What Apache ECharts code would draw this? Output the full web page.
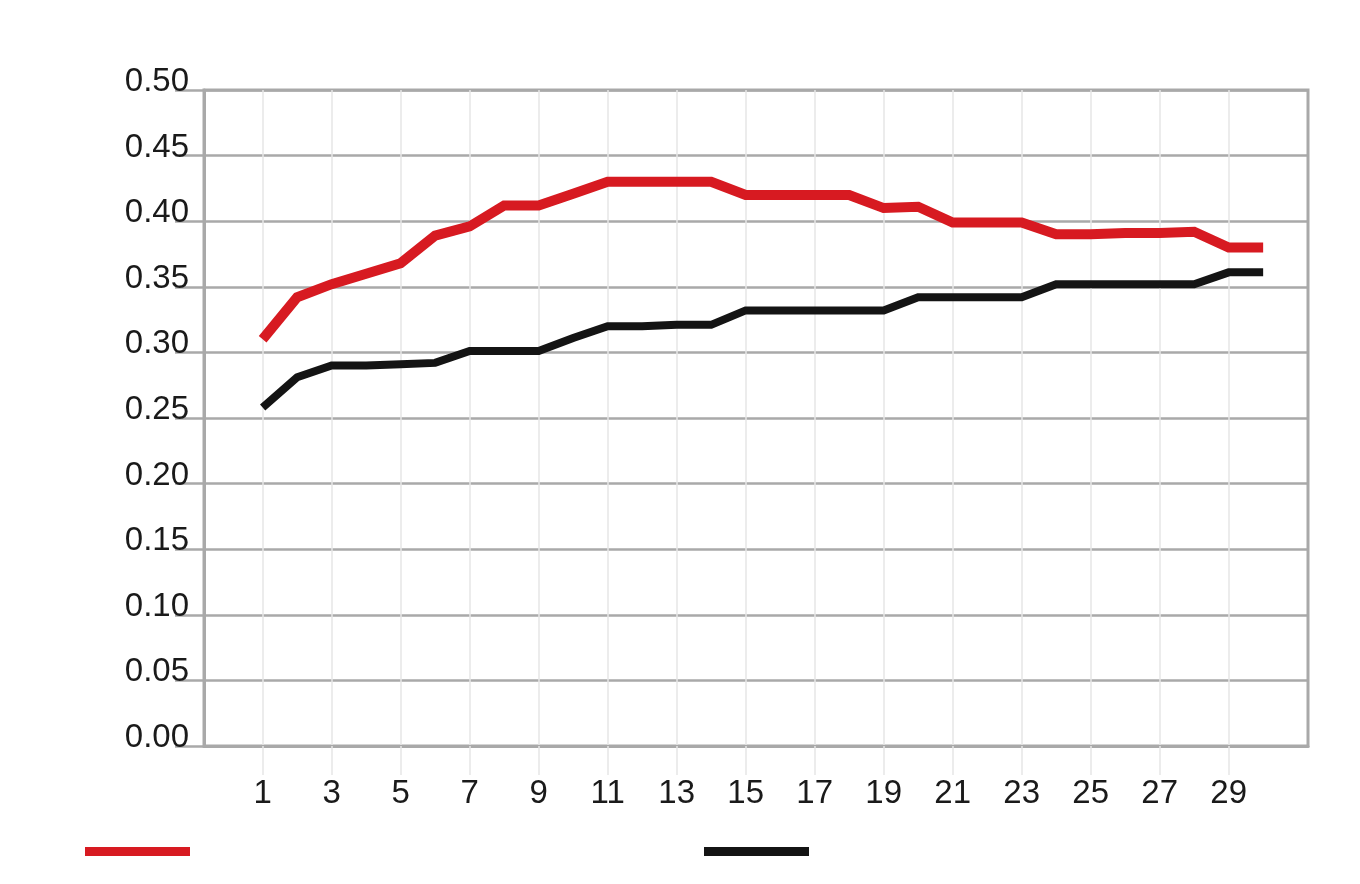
<!DOCTYPE html>
<html>
<head>
<meta charset="utf-8">
<script src="https://cdn.jsdelivr.net/npm/echarts@6/dist/echarts.min.js"></script>
<style>
  html, body { margin: 0; padding: 0; background: #ffffff; }
  #chart { width: 1360px; height: 884px; }
</style>
</head>
<body>
<div id="chart"></div>
<script>
// ---- data ----
var categories = [1, 2, 3, 4, 5, 6, 7, 8, 9, 10, 11, 12, 13, 14, 15, 16, 17, 18, 19, 20, 21, 22, 23, 24, 25, 26, 27, 28, 29, 30];
var redSeries = [0.310, 0.342, 0.352, 0.360, 0.368, 0.389, 0.396, 0.412, 0.412, 0.421,
                 0.430, 0.430, 0.430, 0.430, 0.420, 0.420, 0.420, 0.420, 0.410, 0.411,
                 0.399, 0.399, 0.399, 0.390, 0.390, 0.391, 0.391, 0.392, 0.380, 0.380];
var blackSeries = [0.258, 0.281, 0.290, 0.290, 0.291, 0.292, 0.301, 0.301, 0.301, 0.311,
                   0.320, 0.320, 0.321, 0.321, 0.332, 0.332, 0.332, 0.332, 0.332, 0.342,
                   0.342, 0.342, 0.342, 0.352, 0.352, 0.352, 0.352, 0.352, 0.361, 0.361];
var xTickLabels = [1, 3, 5, 7, 9, 11, 13, 15, 17, 19, 21, 23, 25, 27, 29];
var seriesNames = ['Series 1', 'Series 2'];

function pairs(vals) {
  return categories.map(function (c, i) { return [c, vals[i]]; });
}

var chart = echarts.init(document.getElementById('chart'), null, { renderer: 'canvas' });
var FONT = '"Liberation Sans", Arial, sans-serif';
var GRID_GRAY = '#a9a9a9';

chart.setOption({
  animation: false,
  backgroundColor: '#ffffff',
  legend: [
    {
      data: [seriesNames[0]], left: 85, top: 847, padding: 0, icon: 'rect',
      itemWidth: 105, itemHeight: 9, formatter: function () { return ''; },
      selectedMode: false
    },
    {
      data: [seriesNames[1]], left: 704, top: 847, padding: 0, icon: 'rect',
      itemWidth: 105, itemHeight: 9, formatter: function () { return ''; },
      selectedMode: false
    }
  ],
  grid: {
    left: 204, right: 52, top: 90, bottom: 138,
    show: true, borderColor: GRID_GRAY, borderWidth: 3, backgroundColor: 'transparent'
  },
  xAxis: {
    type: 'value',
    min: -0.7,
    max: 31.3,
    axisLine: { show: true, onZero: false, lineStyle: { color: GRID_GRAY, width: 3 } },
    axisTick: { show: true, inside: false, length: 29, customValues: xTickLabels,
                lineStyle: { color: '#e6e6e6', width: 1.5 } },
    splitLine: { show: true, lineStyle: { color: '#e6e6e6', width: 1.5 } },
    axisLabel: {
      customValues: xTickLabels, margin: 31,
      color: '#1a1a1a', fontFamily: FONT, fontSize: 33
    }
  },
  yAxis: {
    type: 'value',
    min: 0,
    max: 0.5,
    interval: 0.05,
    axisLine: { show: true, onZero: false, lineStyle: { color: GRID_GRAY, width: 3 } },
    axisTick: { show: true, inside: false, length: 29, lineStyle: { color: GRID_GRAY, width: 2.5 } },
    splitLine: { show: true, lineStyle: { color: GRID_GRAY, width: 2.5 } },
    axisLabel: {
      margin: 15,
      color: '#1a1a1a', fontFamily: FONT, fontSize: 33,
      verticalAlign: 'bottom', lineHeight: 16,
      formatter: function (v) { return v.toFixed(2); }
    }
  },
  series: [
    {
      name: seriesNames[0], type: 'line', data: pairs(redSeries),
      showSymbol: false, symbol: 'none', color: '#d71a21',
      lineStyle: { color: '#d71a21', width: 10, cap: 'butt', join: 'miter' },
      z: 3
    },
    {
      name: seriesNames[1], type: 'line', data: pairs(blackSeries),
      showSymbol: false, symbol: 'none', color: '#141414',
      lineStyle: { color: '#141414', width: 8, cap: 'butt', join: 'miter' },
      z: 2
    }
  ]
});
</script>
</body>
</html>
